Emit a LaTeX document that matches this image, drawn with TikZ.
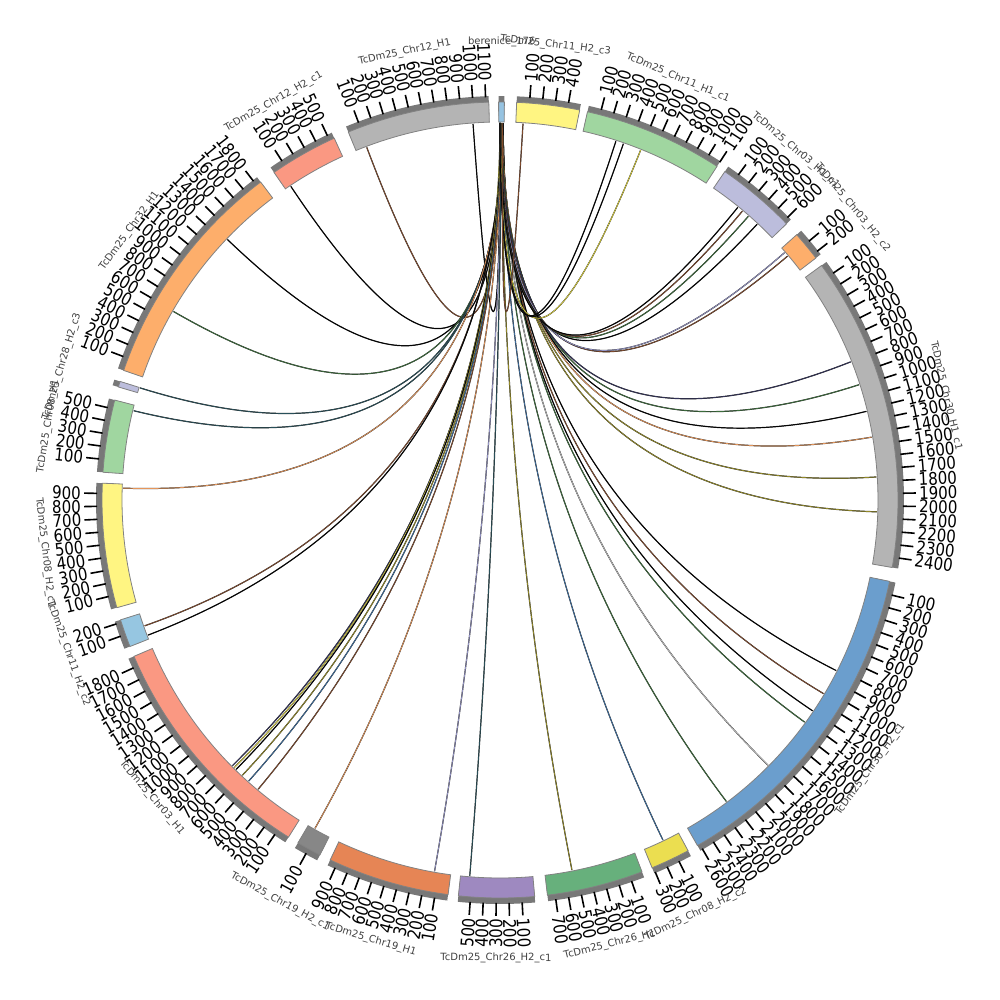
\documentclass[tikz,border=0pt]{standalone}
\usepackage{fontspec}
\setmainfont{DejaVu Sans}
\definecolor{berenA}{RGB}{150,195,225}
\definecolor{yellowA}{RGB}{255,245,130}
\definecolor{greenA}{RGB}{160,214,160}
\definecolor{lavA}{RGB}{188,189,220}
\definecolor{orangeA}{RGB}{253,174,107}
\definecolor{greyA}{RGB}{180,180,180}
\definecolor{blueA}{RGB}{107,158,205}
\definecolor{goldA}{RGB}{235,222,80}
\definecolor{greenB}{RGB}{103,176,124}
\definecolor{purpleA}{RGB}{158,137,192}
\definecolor{orangeB}{RGB}{230,133,85}
\definecolor{greyB}{RGB}{135,135,135}
\definecolor{salmonA}{RGB}{250,152,130}
\definecolor{blueB}{RGB}{150,198,225}
\definecolor{shadowgrey}{RGB}{120,120,120}
\definecolor{edgegrey}{RGB}{130,130,130}
\definecolor{brownL}{RGB}{130,75,45}
\definecolor{oliveL}{RGB}{150,140,40}
\definecolor{greenL}{RGB}{60,110,60}
\definecolor{navyL}{RGB}{50,50,90}
\definecolor{orangeL}{RGB}{230,150,90}
\definecolor{lavL}{RGB}{150,150,200}
\definecolor{tealL}{RGB}{40,80,90}
\definecolor{blueL}{RGB}{60,110,160}
\definecolor{greyL}{RGB}{190,190,190}
\definecolor{yellowL}{RGB}{220,210,60}
\begin{document}
\begin{tikzpicture}[x=1pt,y=1pt,
  tickline/.style={line width=1.6pt, black},
  ticklabel/.style={inner sep=0pt, font=\fontsize{17.5}{17.5}\selectfont},
  chrname/.style={inner sep=0pt, font=\fontsize{10}{10}\selectfont, text=black!75},
  link/.style={line width=0.25pt, draw=black!85, double distance=0.7pt}]
\useasboundingbox (-500,-500) rectangle (500,500);

% links
\foreach \s/\t/\c in {90.0/94.1/black, 89.9/110.7/brownL, 89.8/123.7/black,
  89.7/136.3/black, 89.6/150.0/greenL, 89.5/162.7/tealL, 89.5/166.3/tealL,
  89.6/178.2/orangeL, 89.7/-160.5/brownL, 89.8/-159.0/black,
  89.9/-135.2/navyL, 90.0/-134.8/yellowL, 89.9/-134.4/black, 89.8/-133.1/oliveL,
  89.7/-131.8/blueL, 89.6/-129.9/brownL, 89.7/-119.4/orangeL, 89.8/-100.0/lavL,
  89.8/-94.6/tealL, 89.7/-79.0/oliveL, 89.6/-64.4/blueL, 89.6/-53.1/greenL,
  89.5/-44.7/greyL, 89.5/-36.1/greenL, 89.5/-34.0/black, 89.5/-30.9/brownL,
  89.5/-26.9/black, 89.6/-1.8/oliveL, 89.6/3.5/oliveL, 89.6/9.6/orangeL,
  89.7/13.6/black, 89.7/17.8/greenL, 89.8/21.5/navyL, 89.8/40.3/brownL,
  89.9/41.0/lavL, 89.9/47.0/black, 90.0/48.8/greenL, 90.0/50.0/brownL,
  90.0/50.9/black, 89.9/68.1/yellowL, 90.0/70.9/black, 90.0/72.1/black,
  89.6/86.5/brownL}
  \draw[link, double=\c] (\s:377) .. controls (\s:126) and (\t:126) .. (\t:377);

% ideogram, ticks and names
\foreach \nm/\a/\len/\col [count=\k] in {berenice\_176/90.2/45/berenA,
  TcDm25\_Chr11\_H2\_c3/87.6/495/yellowA,
  TcDm25\_Chr11\_H1\_c1/77.3/1100/greenA,
  TcDm25\_Chr03\_H1\_c1/55.6/630/lavA,
  TcDm25\_Chr03\_H2\_c2/41.8/235/orangeA,
  TcDm25\_Chr30\_H1\_c1/36.1/2480/greyA,
  TcDm25\_Chr30\_H2\_c1/-11.8/2620/blueA,
  TcDm25\_Chr08\_H2\_c2/-61.8/310/goldA,
  TcDm25\_Chr26\_H1/-69.1/760/greenB,
  TcDm25\_Chr26\_H2\_c1/-85.0/595/purpleA,
  TcDm25\_Chr19\_H1/-97.5/960/orangeB,
  TcDm25\_Chr19\_H2\_c1/-116.9/195/greyB,
  TcDm25\_Chr03\_H1/-122.1/1880/salmonA,
  TcDm25\_Chr11\_H2\_c2/-158.4/220/blueB,
  TcDm25\_Chr08\_H2\_c1/-164.3/980/yellowA,
  TcDm25\_Chr08\_H1/-184.0/570/greenA,
  TcDm25\_Chr28\_H2\_c3/-196.5/45/lavA,
  TcDm25\_Chr32\_H1/-199.0/1840/orangeA,
  TcDm25\_Chr12\_H2\_c1/-235.4/540/salmonA,
  TcDm25\_Chr12\_H1/-247.6/1124/greyA} {
  \pgfmathsetmacro\e{\a-\len*0.0185}
  \fill[shadowgrey] (\a:384) arc[start angle=\a, end angle=\e, radius=384]
    -- (\e:404) arc[start angle=\e, end angle=\a, radius=404] -- cycle;
  \filldraw[fill=\col, draw=edgegrey, line width=0.8pt] (\a:378)
    arc[start angle=\a, end angle=\e, radius=378]
    -- (\e:398) arc[start angle=\e, end angle=\a, radius=398] -- cycle;
  \pgfmathtruncatemacro\nt{\len/100}
  \ifnum\nt>0
    \foreach \i in {1,...,\nt} {
      \pgfmathsetmacro\t{\a-\i*100*0.0185}
      \pgfmathtruncatemacro\lab{\i*100}
      \pgfmathtruncatemacro\rt{cos(\t)>0}
      \draw[tickline] (\t:403) -- (\t:416);
      \ifnum\rt=1
        \node[ticklabel, anchor=west, rotate=\t] at (\t:419) {\scalebox{0.86}[1]{\lab}};
      \else
        \pgfmathsetmacro\rr{\t+180}
        \node[ticklabel, anchor=east, rotate=\rr] at (\t:419) {\scalebox{0.86}[1]{\lab}};
      \fi
    }
  \fi
  \pgfmathsetmacro\m{\a-\len*0.0185/2}
  \pgfmathtruncatemacro\up{sin(\m)>=0}
  \ifnum\up=1
    \pgfmathsetmacro\rn{\m-90}
  \else
    \pgfmathsetmacro\rn{\m+90}
  \fi
  \node[chrname, rotate=\rn] (chr\k) at (\m:458) {\nm};
}
\end{tikzpicture}
\end{document}
